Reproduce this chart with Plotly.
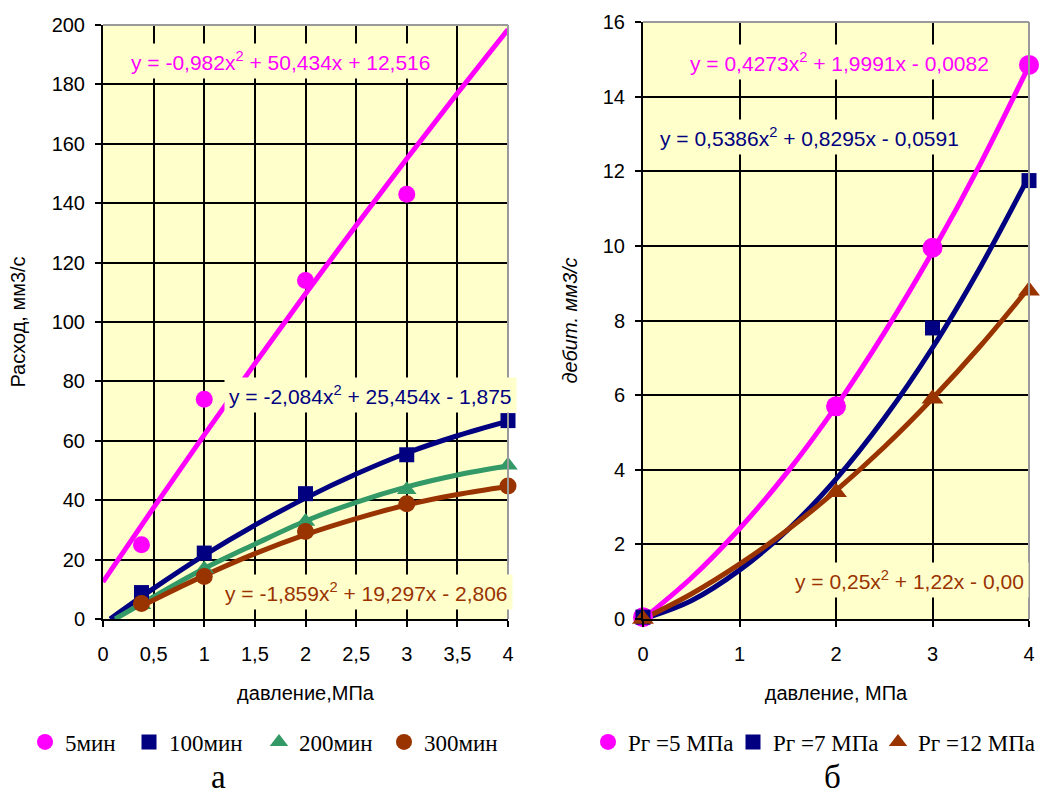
import plotly.graph_objects as go

# ---------------- chart "а" ----------------
names_a = ["5мин", "100мин", "200мин", "300мин"]
pressure_a5 = [0.38, 1, 2, 3]
pressure_a = [0.38, 1, 2, 3, 4]
flow_5 = [25, 74, 114, 143]
flow_100 = [8.9, 22.2, 42.2, 55.3, 66.8]
flow_200 = [4.8, 16.8, 32.8, 43.5, 51.8]
flow_300 = [5.2, 14.3, 29.5, 38.8, 44.8]

trend_x_5 = [0, 0.5, 1, 1.5, 2, 2.5, 3, 3.5, 4]
trend_5 = [12.5, 37.5, 62, 86, 109.5, 132.5, 155, 177, 198.5]
trend_x_100 = [0.07, 0.5, 1, 1.5, 2, 2.5, 3, 3.5, 4]
trend_100 = [0, 10.3, 21.5, 31.6, 40.7, 48.8, 55.9, 61.7, 66.6]
trend_x_200 = [0.12, 0.5, 1, 1.5, 2, 2.5, 3, 3.5, 4]
trend_200 = [0, 7.5, 17, 25.2, 33, 39.3, 44.5, 48.5, 51.5]
trend_x_300 = [0.38, 0.5, 1, 1.5, 2, 2.5, 3, 3.5, 4]
trend_300 = [4.3, 6.4, 14.6, 22, 28.4, 33.8, 38.4, 41.9, 44.6]

eq_a = ["y = -0,982x<sup>2</sup> + 50,434x + 12,516",
        "y = -2,084x<sup>2</sup> + 25,454x - 1,875",
        "y = -1,859x<sup>2</sup> + 19,297x - 2,806"]
eq_a_pos = [(1.75, 188), (2.64, 75.4), (2.6, 9.1)]

# ---------------- chart "б" ----------------
names_b = ["Pг =5 МПа", "Pг =7 МПа", "Pг =12 МПа"]
pressure_b = [0, 2, 3, 4]
pressure_b7 = [0, 3, 4]
debit_5 = [0.05, 5.7, 9.95, 14.85]
debit_7 = [0.05, 7.8, 11.75]
debit_12 = [0, 3.4, 5.9, 8.8]

trend_x_b = [0, 0.5, 1, 1.5, 2, 2.5, 3, 3.5, 4]
trend_b5 = [0, 1.1, 2.42, 3.95, 5.7, 7.67, 9.84, 12.22, 14.83]
trend_b7 = [0, 0.49, 1.31, 2.39, 3.75, 5.38, 7.27, 9.45, 11.87]
trend_b12 = [0, 0.67, 1.47, 2.39, 3.44, 4.61, 5.91, 7.33, 8.88]

eq_b = ["y = 0,4273x<sup>2</sup> + 1,9991x - 0,0082",
        "y = 0,5386x<sup>2</sup> + 0,8295x - 0,0591",
        "y = 0,25x<sup>2</sup> + 1,22x - 0,00"]
eq_b_pos = [(2.04, 14.93), (1.73, 12.92), (2.76, 1.05)]

MAGENTA = "#FF00FF"
NAVY = "#000080"
GREEN = "#339966"
BROWN = "#993300"
BG = "#FFFFCC"
SANS = "Liberation Sans, Arial, sans-serif"
SERIF = "Liberation Serif, Times New Roman, serif"
LW = 5

fig = go.Figure()

# trend lines (a)
for tx, ty, c in [(trend_x_5, trend_5, MAGENTA), (trend_x_100, trend_100, NAVY),
                  (trend_x_200, trend_200, GREEN), (trend_x_300, trend_300, BROWN)]:
    fig.add_trace(go.Scatter(x=tx, y=ty, mode="lines", line=dict(color=c, width=LW, shape="spline"),
                             showlegend=False, hoverinfo="skip", xaxis="x", yaxis="y"))
# markers (a)
for nm, px, py, c, sym, sz, lw in [
        (names_a[0], pressure_a5, flow_5, MAGENTA, "circle", 17, 59),
        (names_a[1], pressure_a, flow_100, NAVY, "square", 15, 85),
        (names_a[2], pressure_a, flow_200, GREEN, "triangle-up", 17, 80),
        (names_a[3], pressure_a, flow_300, BROWN, "circle", 17, 80)]:
    fig.add_trace(go.Scatter(x=px, y=py, mode="markers", name=nm, cliponaxis=False,
                             marker=dict(color=c, symbol=sym, size=sz, line=dict(width=0)),
                             legend="legend", legendwidth=lw, xaxis="x", yaxis="y"))

# trend lines (b)
for ty, c in [(trend_b5, MAGENTA), (trend_b7, NAVY), (trend_b12, BROWN)]:
    fig.add_trace(go.Scatter(x=trend_x_b, y=ty, mode="lines", line=dict(color=c, width=LW, shape="spline"),
                             showlegend=False, hoverinfo="skip", xaxis="x2", yaxis="y2"))
# markers (b)
for nm, px, py, c, sym, sz, lw in [
        (names_b[0], pressure_b, debit_5, MAGENTA, "circle", 20, 100),
        (names_b[1], pressure_b7, debit_7, NAVY, "square", 15, 100),
        (names_b[2], pressure_b, debit_12, BROWN, "triangle-up", 19, 120)]:
    fig.add_trace(go.Scatter(x=px, y=py, mode="markers", name=nm, cliponaxis=False,
                             marker=dict(color=c, symbol=sym, size=sz, line=dict(width=0)),
                             legend="legend2", legendwidth=lw, xaxis="x2", yaxis="y2"))

W, H = 1046, 796
axis_common = dict(showline=True, linecolor="black", linewidth=2, ticks="outside", ticklen=6,
                   tickwidth=2, tickcolor="black", showgrid=True, gridcolor="black", gridwidth=2,
                   zeroline=False, automargin=False,
                   tickfont=dict(family=SANS, size=20, color="black"))

fig.update_layout(
    width=W, height=H, margin=dict(l=0, r=0, t=0, b=0, autoexpand=False),
    paper_bgcolor="white", plot_bgcolor=BG, separators=", ",
    xaxis=dict(domain=[103 / W, 508 / W], range=[0, 4], dtick=0.5, anchor="y",
               title=dict(text="давление,МПа", font=dict(family=SANS, size=20, color="black"), standoff=22),
               ticklabelstandoff=10, **axis_common),
    yaxis=dict(domain=[177 / H, 771 / H], range=[0, 200], dtick=20, anchor="x",
               title=dict(text="Расход, мм3/с", font=dict(family=SANS, size=20, color="black"), standoff=21),
               ticklabelstandoff=6, **axis_common),
    xaxis2=dict(domain=[643 / W, 1029 / W], range=[0, 4], dtick=1, anchor="y2",
                title=dict(text="давление, МПа", font=dict(family=SANS, size=20, color="black"), standoff=22),
                ticklabelstandoff=10, **axis_common),
    yaxis2=dict(domain=[177 / H, 774 / H], range=[0, 16], dtick=2, anchor="x2",
                title=dict(text="дебит. мм3/с", font=dict(family=SANS, size=20, color="black", style="italic"),
                           standoff=20),
                ticklabelstandoff=6, **axis_common),
    legend=dict(orientation="h", xref="container", yref="container", x=25 / W, xanchor="left",
                y=(H - 742) / H, yanchor="middle",
                font=dict(family=SERIF, size=23, color="black"), bgcolor="rgba(0,0,0,0)",
                itemsizing="trace"),
    legend2=dict(orientation="h", xref="container", yref="container", x=588 / W, xanchor="left",
                 y=(H - 742) / H, yanchor="middle",
                 font=dict(family=SERIF, size=23, color="black"), bgcolor="rgba(0,0,0,0)",
                 itemsizing="trace"),
)

# plot-area border on top/right (grey, as in the original)
for xr, yr in [("x domain", "y domain"), ("x2 domain", "y2 domain")]:
    fig.add_shape(type="line", xref=xr, yref=yr, x0=0, x1=1, y0=1, y1=1,
                  line=dict(color="#9a9a9a", width=2), layer="above")
    fig.add_shape(type="line", xref=xr, yref=yr, x0=1, x1=1, y0=0, y1=1,
                  line=dict(color="#9a9a9a", width=2), layer="above")

# trend equations
eq_colors_a = [MAGENTA, NAVY, BROWN]
for txt, (ex, ey), c in zip(eq_a, eq_a_pos, eq_colors_a):
    fig.add_annotation(x=ex, y=ey, xref="x", yref="y", text=txt, showarrow=False,
                       font=dict(family=SANS, size=21, color=c), bgcolor=BG, borderpad=4)
eq_colors_b = [MAGENTA, NAVY, BROWN]
for txt, (ex, ey), c in zip(eq_b, eq_b_pos, eq_colors_b):
    fig.add_annotation(x=ex, y=ey, xref="x2", yref="y2", text=txt, showarrow=False,
                       font=dict(family=SANS, size=21, color=c), bgcolor=BG, borderpad=4)

# panel letters
fig.add_annotation(x=218 / W, y=0, xref="paper", yref="paper", text="а", showarrow=False,
                   font=dict(family=SERIF, size=33, color="black"), xanchor="center", yanchor="bottom",
                   borderpad=0)
fig.add_annotation(x=832 / W, y=0, xref="paper", yref="paper", text="б", showarrow=False,
                   font=dict(family=SERIF, size=33, color="black"), xanchor="center", yanchor="bottom",
                   borderpad=0)

# remove the default 8px page margin so the 1046x796 figure fills the window exactly
fig.write_html("out.html", config={"displayModeBar": False},
               post_script="document.body.style.margin='0';")
